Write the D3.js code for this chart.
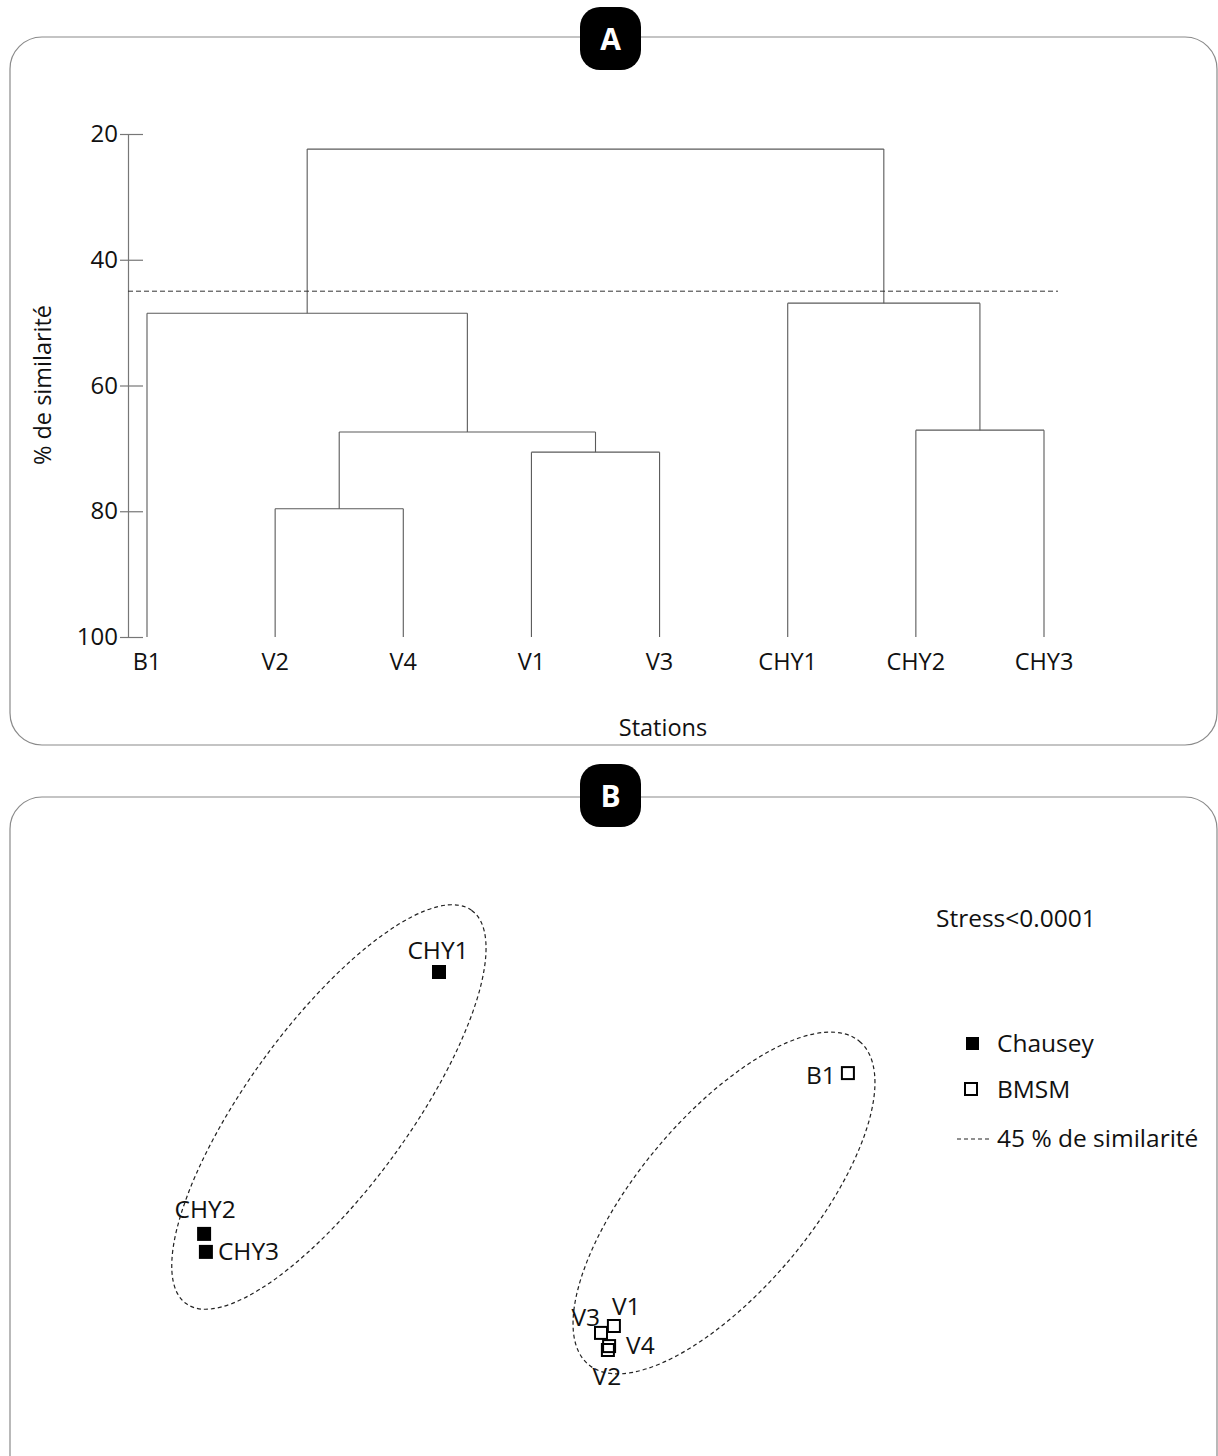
<!DOCTYPE html>
<html>
<head>
<meta charset="utf-8">
<script src="https://cdn.jsdelivr.net/npm/d3@7"></script>
<style>
  html, body { margin: 0; padding: 0; background: #fff; }
  svg { display: block; }
  text { font-family: "Open Sans", "Noto Sans", sans-serif; fill: #111; }
</style>
</head>
<body>
<script>
// ---------- DATA ----------
// Panel A: dendrogram (cluster analysis)
const leaves = ["B1", "V2", "V4", "V1", "V3", "CHY1", "CHY2", "CHY3"];
const mergeLeft   = ["V2", "V1", "V2V4", "B1", "CHY2", "CHY1", "BV"];
const mergeRight  = ["V4", "V3", "V1V3", "V", "CHY3", "CHY23", "CHY"];
const mergeName   = ["V2V4", "V1V3", "V", "BV", "CHY23", "CHY", "ALL"];
const mergeHeight = [79.6, 70.6, 67.4, 48.5, 67.1, 46.9, 22.4];
const yTicks = [20, 40, 60, 80, 100];
const cutLevel = 45;

// Panel B: nMDS ordination
const stations = ["CHY1", "CHY2", "CHY3", "B1", "V1", "V3", "V4", "V2"];
const mdsX = [-0.37, -1.153, -1.147, 0.993, 0.213, 0.17, 0.197, 0.193];
const mdsY = [0.46, -0.413, -0.473, 0.123, -0.72, -0.743, -0.787, -0.80];
const site = ["Chausey", "Chausey", "Chausey", "BMSM", "BMSM", "BMSM", "BMSM", "BMSM"];
// 45 % similarity groups: ellipse centre, semi-axes, angle (deg)
const ellCX = [-0.737, 0.58];
const ellCY = [0.01, -0.31];
const ellA = [0.81, 0.703];
const ellB = [0.27, 0.289];
const ellAngle = [54, 50];
const legendItems = ["Chausey", "BMSM", "45 % de similarité"];
const stressText = "Stress<0.0001";

// ---------- SVG ----------
const W = 1218, H = 1456;
const svg = d3.select("body").append("svg").attr("width", W).attr("height", H);

function panel(y, h, letter, badgeY) {
  svg.append("rect").attr("x", 10).attr("y", y).attr("width", 1207).attr("height", h)
    .attr("rx", 32).attr("ry", 32).attr("fill", "none").attr("stroke", "#8a8a8a").attr("stroke-width", 1.2);
  svg.append("rect").attr("x", 580).attr("y", badgeY).attr("width", 61).attr("height", 63)
    .attr("rx", 20).attr("ry", 20).attr("fill", "#000");
  svg.append("text").attr("x", 610.5).attr("y", badgeY + 32).attr("dy", "0.36em")
    .attr("text-anchor", "middle").style("fill", "#fff").style("font-weight", "bold")
    .style("font-size", "30px").text(letter);
}
panel(37, 708, "A", 7);
panel(797, 700, "B", 764);

// ---------- PANEL A ----------
const y = d3.scaleLinear().domain([20, 100]).range([134, 637]);
const x = d3.scalePoint().domain(leaves).range([147, 1044]);

const axisX = 128;
const gA = svg.append("g");
const yAxis = d3.axisLeft(y).tickValues(yTicks).tickSize(0).tickPadding(10);
const ax = gA.append("g").attr("transform", `translate(${axisX},0)`).call(yAxis);
ax.select(".domain").attr("stroke", "#777").attr("stroke-width", 1.2);
ax.selectAll(".tick text").style("font-size", "24px").style("fill", "#111")
  .attr("font-family", null).attr("x", -10);
ax.selectAll(".tick").append("line").attr("x1", -8).attr("x2", 15)
  .attr("stroke", "#777").attr("stroke-width", 1.2);

// build nodes
const nodes = {};
leaves.forEach(l => nodes[l] = { x: x(l), h: 100 });
mergeName.forEach((n, i) => {
  const a = nodes[mergeLeft[i]], b = nodes[mergeRight[i]];
  const h = mergeHeight[i];
  nodes[n] = { x: (a.x + b.x) / 2, h: h };
  [a, b].forEach(c => {
    gA.append("line").attr("x1", c.x).attr("x2", c.x).attr("y1", y(c.h)).attr("y2", y(h))
      .attr("stroke", "#5a5a5a").attr("stroke-width", 1.1);
  });
  gA.append("line").attr("x1", a.x).attr("x2", b.x).attr("y1", y(h)).attr("y2", y(h))
    .attr("stroke", "#5a5a5a").attr("stroke-width", 1.1);
});

// cut line
gA.append("line").attr("x1", axisX).attr("x2", 1058).attr("y1", y(cutLevel)).attr("y2", y(cutLevel))
  .attr("stroke", "#333").attr("stroke-width", 1).attr("stroke-dasharray", "5,3");

// leaf labels
gA.selectAll(".leaf").data(leaves).enter().append("text")
  .attr("x", d => x(d)).attr("y", 670).attr("text-anchor", "middle")
  .style("font-size", "23.5px").text(d => d);

gA.append("text").attr("x", 663).attr("y", 736).attr("text-anchor", "middle")
  .style("font-size", "23.5px").text("Stations");
gA.append("text").attr("transform", "translate(51,385) rotate(-90)").attr("text-anchor", "middle")
  .style("font-size", "23.5px").text("% de similarité");

// ---------- PANEL B ----------
const sx = d3.scaleLinear().domain([-1.5, 1.5]).range([100, 1000]);
const sy = d3.scaleLinear().domain([-1, 1]).range([1410, 810]);
const k = sx(1) - sx(0);
const gB = svg.append("g");

ellCX.forEach((cx, i) => {
  gB.append("ellipse").attr("cx", sx(cx)).attr("cy", sy(ellCY[i]))
    .attr("rx", ellA[i] * k).attr("ry", ellB[i] * k)
    .attr("transform", `rotate(${-ellAngle[i]},${sx(cx)},${sy(ellCY[i])})`)
    .attr("fill", "none").attr("stroke", "#222").attr("stroke-width", 1.2).attr("stroke-dasharray", "4,3");
});

const sq = 14;
stations.forEach((s, i) => {
  const filled = site[i] === "Chausey";
  gB.append("rect").attr("x", sx(mdsX[i]) - sq / 2).attr("y", sy(mdsY[i]) - sq / 2)
    .attr("width", filled ? sq : sq - 2).attr("height", filled ? sq : sq - 2)
    .attr("transform", filled ? null : "translate(1,1)")
    .attr("fill", filled ? "#000" : "none").attr("stroke", "#000").attr("stroke-width", filled ? 0 : 2);
});

// label offsets (dx, dy, anchor)
const labelPos = {
  CHY1: [-1, -22, "middle"], CHY2: [1, -24, "middle"], CHY3: [12, 0, "start"],
  B1: [-12, 2, "end"], V1: [-2, -20, "start"], V3: [-1, -15, "end"],
  V4: [17, -1, "start"], V2: [-1, 26, "middle"]
};
const fsB = "24.5px";
stations.forEach((s, i) => {
  const p = labelPos[s];
  gB.append("text").attr("x", sx(mdsX[i]) + p[0]).attr("y", sy(mdsY[i]) + p[1]).attr("dy", "0.35em")
    .attr("text-anchor", p[2]).style("font-size", fsB).text(s);
});

gB.append("text").attr("x", 936).attr("y", 918).attr("dy", "0.35em").style("font-size", fsB).text(stressText);

// legend
gB.append("rect").attr("x", 966).attr("y", 1037).attr("width", 13).attr("height", 13).attr("fill", "#000");
gB.append("rect").attr("x", 965).attr("y", 1083).attr("width", 12).attr("height", 12)
  .attr("fill", "none").attr("stroke", "#000").attr("stroke-width", 2);
gB.append("line").attr("x1", 957).attr("x2", 990).attr("y1", 1139).attr("y2", 1139)
  .attr("stroke", "#222").attr("stroke-width", 1.1).attr("stroke-dasharray", "4,3");
const legY = [1043, 1089, 1138];
legendItems.forEach((t, i) => {
  gB.append("text").attr("x", 997).attr("y", legY[i]).attr("dy", "0.35em").style("font-size", fsB).text(t);
});
</script>
</body>
</html>
